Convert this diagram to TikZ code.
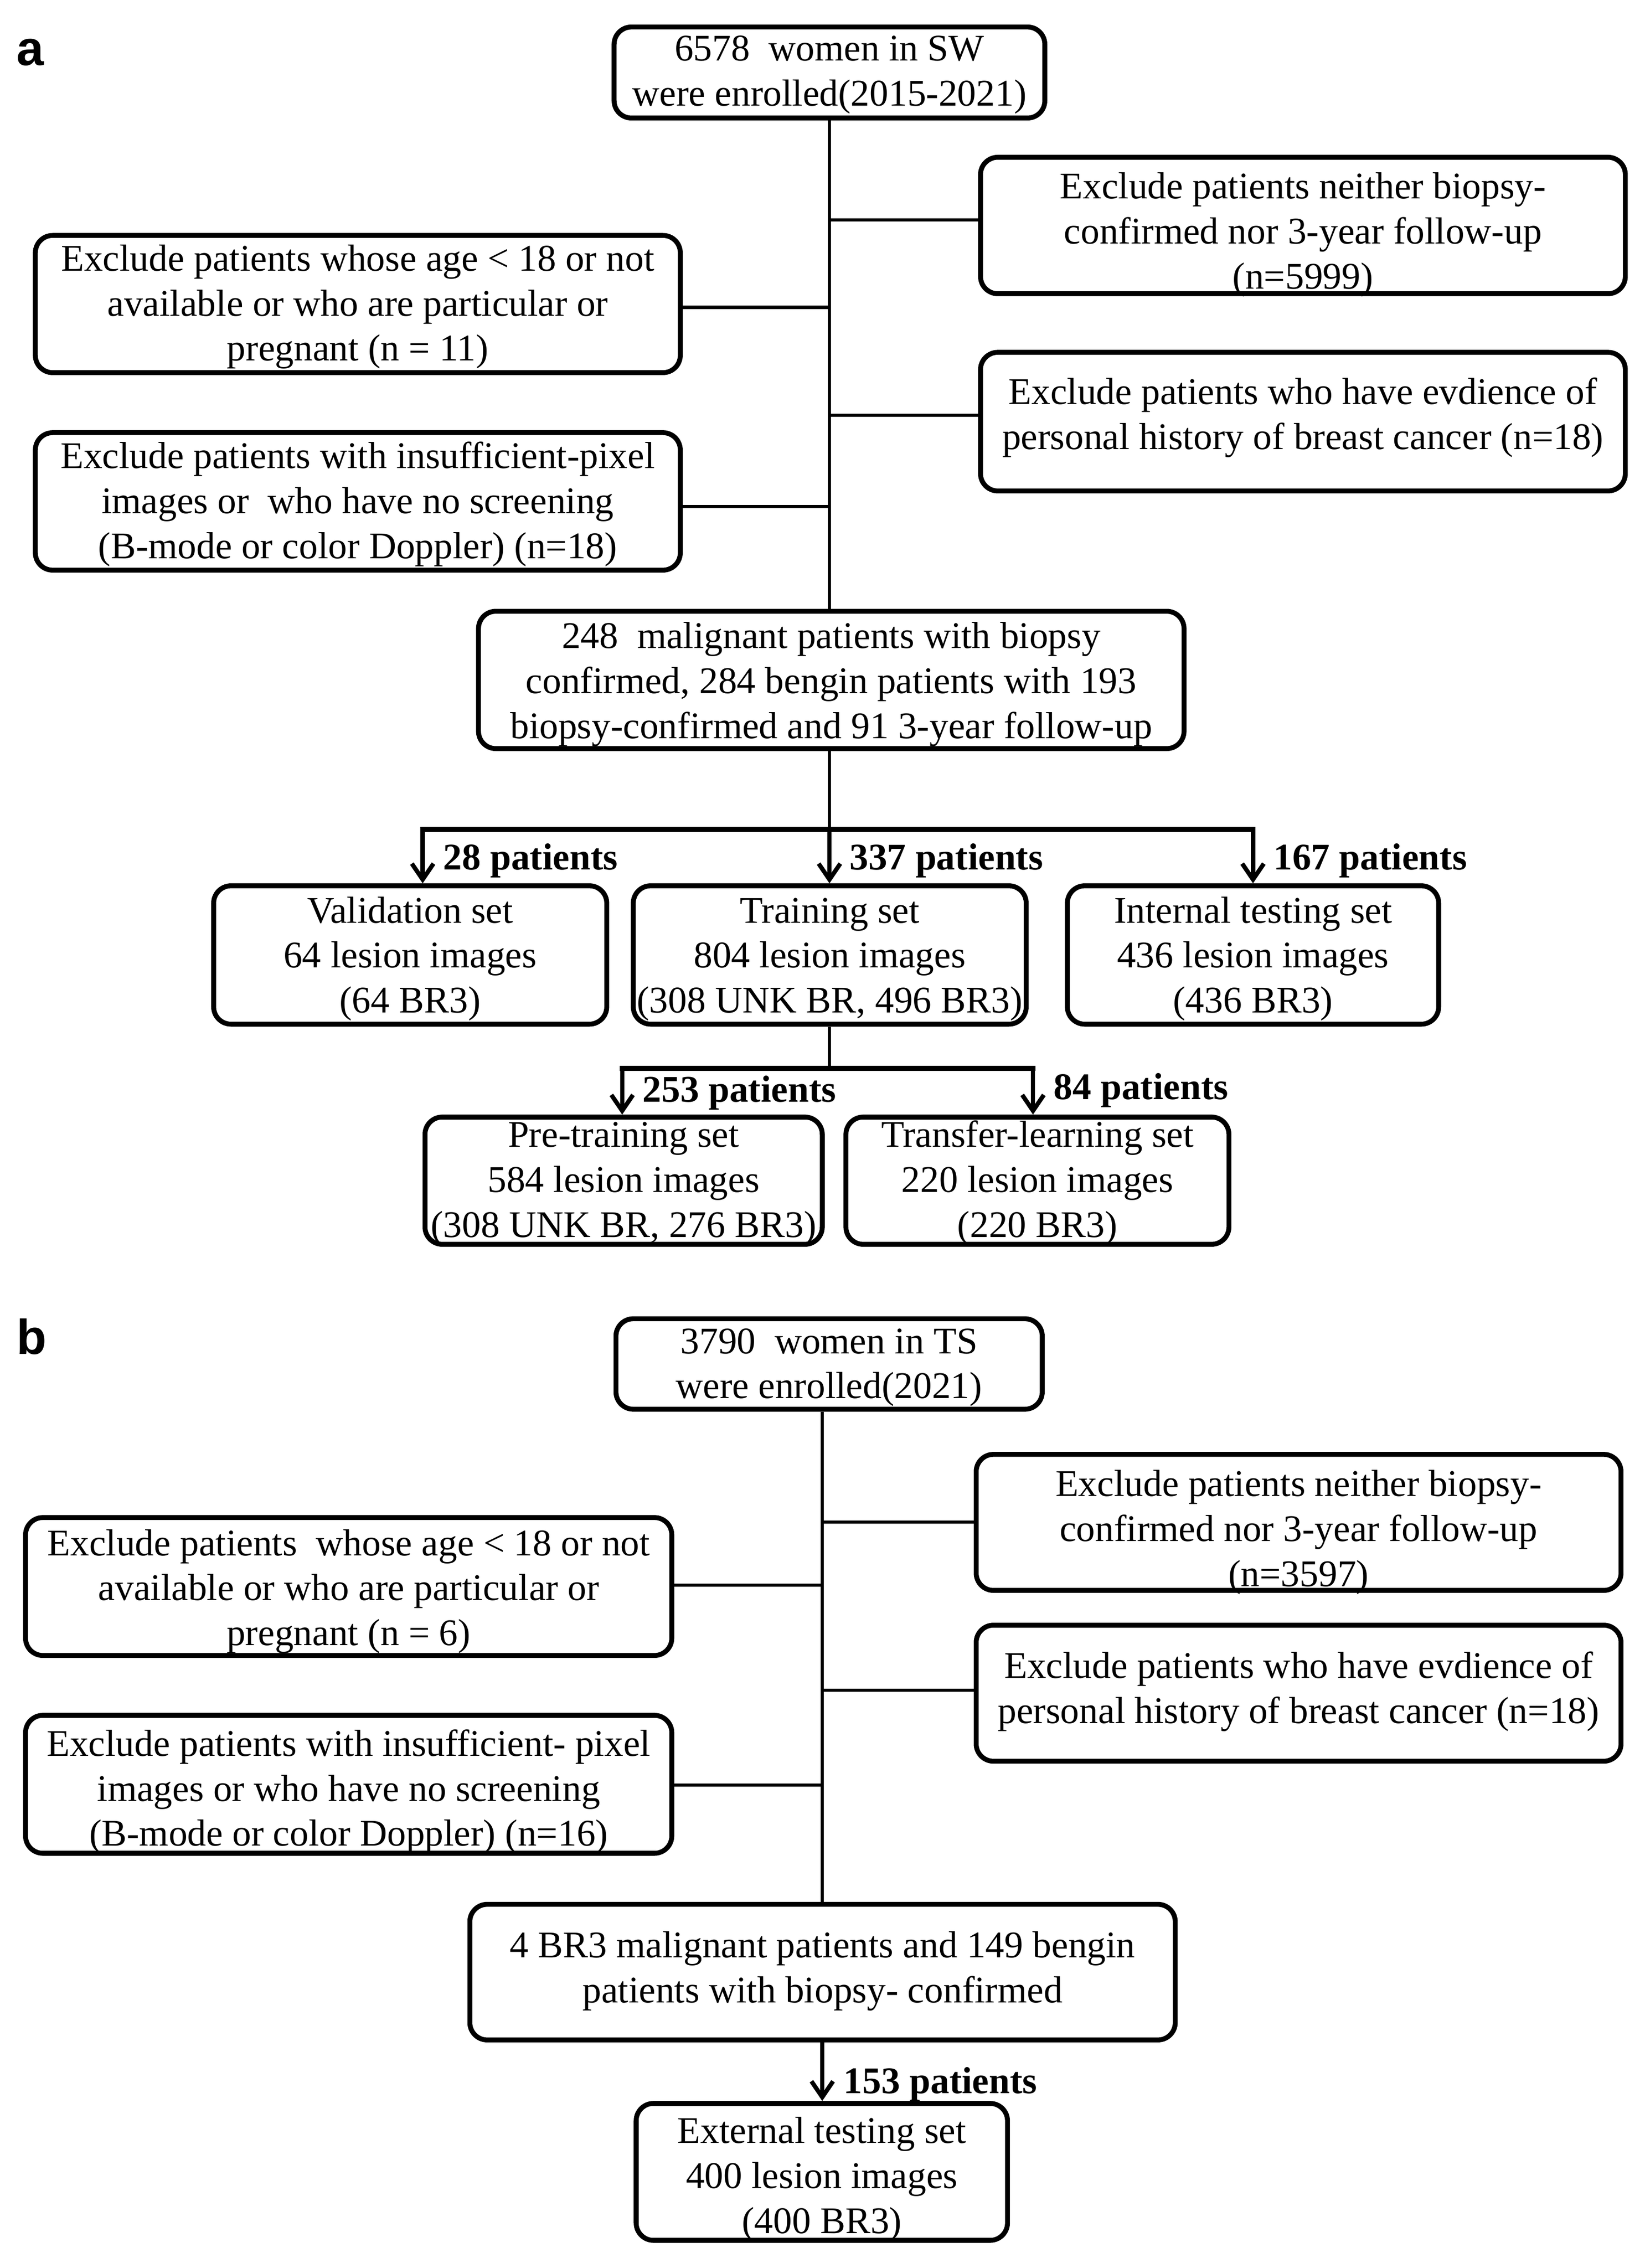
\documentclass[tikz,border=0pt]{standalone}
\usepackage{fontspec}
\setmainfont{Liberation Serif}
\newfontfamily\labelfont{Liberation Sans}
\usetikzlibrary{arrows.meta}
% box from outer edges: name, x-left, x-right, y-top, y-bottom
\newcommand\flowbox[5]{\node[box, minimum width={#3-#2-3.4}, minimum height={#5-#4-3.4}] (#1) at ({(#2+#3)/2},{(#4+#5)/2}) {};}
% text block: name, centre x, first baseline y, text
\newcommand\flowtext[4]{\node[txt, anchor=north] (#1) at (#2,{#3-22}) {\rule{0pt}{22pt}#4};}
\begin{document}
\begin{tikzpicture}[x=1pt,y=-1pt,
  box/.style={draw, line width=3.4pt, rounded corners=12pt, inner sep=0pt},
  txt/.style={align=center, inner sep=0pt, font=\fontsize{26.1}{31.2}\selectfont},
  conn/.style={line width=2.2pt},
  bar/.style={line width=3.4pt, line cap=rect},
  arr/.style={line width=3pt, -{Straight Barb[length=11pt,width=15pt,line width=3pt]}},
  lab/.style={anchor=base west, inner sep=0pt, font=\fontsize{26.1}{31.2}\selectfont\bfseries},
  panel/.style={anchor=base west, inner sep=0pt, font=\fontsize{34}{40}\selectfont\labelfont\bfseries}]
\useasboundingbox (0,0) rectangle (1140,1572.1);

% ---------------- panel a ----------------
\node[panel] (pa) at (11.5,45.3) {a};

\flowbox{a0}{424}{726}{17}{83.5}
\flowtext{a0t}{575}{42}{6578\ \ women in SW\\were enrolled(2015-2021)}
\flowbox{ra1}{678}{1128.4}{107.3}{205.3}
\flowtext{ra1t}{903.2}{137.6}{Exclude patients neither biopsy-\\confirmed nor 3-year follow-up\\(n=5999)}
\flowbox{la1}{22.8}{473.3}{161.5}{260}
\flowtext{la1t}{248}{187.5}{Exclude patients whose age < 18 or not\\available or who are particular or\\pregnant (n = 11)}
\flowbox{ra2}{678}{1128.4}{242.5}{342}
\flowtext{ra2t}{903.2}{280}{Exclude patients who have evdience of\\personal history of breast cancer (n=18)}
\flowbox{la2}{22.8}{473.3}{298.2}{396.9}
\flowtext{la2t}{248}{324.5}{Exclude patients with insufficient-pixel\\images or\ \ who have no screening\\(B-mode or color Doppler) (n=18)}
\flowbox{a1}{330}{822.5}{422}{520.6}
\flowtext{a1t}{576.2}{449.2}{248\ \ malignant patients with biopsy\\confirmed, 284 bengin patients with 193\\biopsy-confirmed and 91 3-year follow-up}

\coordinate (sa0) at (575,83.5);
\coordinate (cr1) at (575,152.5);
\coordinate (cl1) at (575,213);
\coordinate (cr2) at (575,287.9);
\coordinate (cl2) at (575,351);
\draw[conn] (sa0) -- (sa0 |- a1.north);
\draw[conn] (cr1) -- (cr1 -| ra1.west);
\draw[conn] (cl1) -- (cl1 -| la1.east);
\draw[conn] (cr2) -- (cr2 -| ra2.west);
\draw[conn] (cl2) -- (cl2 -| la2.east);

\flowbox{val}{146.4}{422.3}{612.3}{711.6}
\flowtext{valt}{284.3}{639.5}{Validation set\\64 lesion images\\(64 BR3)}
\flowbox{train}{437.3}{713.1}{612.3}{711.6}
\flowtext{traint}{575.2}{639.5}{Training set\\804 lesion images\\(308 UNK BR, 496 BR3)}
\flowbox{intt}{738.2}{999}{612.3}{711.6}
\flowtext{inttt}{868.6}{639.5}{Internal testing set\\436 lesion images\\(436 BR3)}

\coordinate (barA) at (575,575);
\coordinate (barAL) at (293,575);
\coordinate (barAR) at (868.6,575);
\draw[conn] (sa0 |- a1.south) -- (barA);
\draw[bar] (barAL) -- (barAR);
\draw[arr] (barAL) -- (barAL |- val.north);
\draw[arr] (barA) -- (barA |- train.north);
\draw[arr] (barAR) -- (barAR |- intt.north);
\node[lab] (l28) at (307,602.7) {28 patients};
\node[lab] (l337) at (588.8,602.7) {337 patients};
\node[lab] (l167) at (882.6,602.7) {167 patients};

\flowbox{pre}{292.9}{571.7}{772.6}{864.2}
\flowtext{pret}{432.3}{795}{Pre-training set\\584 lesion images\\(308 UNK BR, 276 BR3)}
\flowbox{trans}{584.7}{853.6}{772.6}{864.2}
\flowtext{transt}{719.2}{795}{Transfer-learning set\\220 lesion images\\(220 BR3)}

\coordinate (barB) at (575,740.5);
\coordinate (barBL) at (431.3,740.5);
\coordinate (barBR) at (716.1,740.5);
\draw[conn] (barB |- train.south) -- (barB);
\draw[bar] (barBL) -- (barBR);
\draw[arr] (barBL) -- (barBL |- pre.north);
\draw[arr] (barBR) -- (barBR |- trans.north);
\node[lab] (l253) at (445.3,764) {253 patients};
\node[lab] (l84) at (730.2,762) {84 patients};

% ---------------- panel b ----------------
\node[panel] (pb) at (11.5,938.5) {b};

\flowbox{b0}{425.3}{724.2}{912.4}{978.5}
\flowtext{b0t}{574.7}{938}{3790\ \ women in TS\\were enrolled(2021)}
\flowbox{rb1}{675}{1125.4}{1006.4}{1104.1}
\flowtext{rb1t}{900.2}{1037}{Exclude patients neither biopsy-\\confirmed nor 3-year follow-up\\(n=3597)}
\flowbox{lb1}{16}{467.4}{1050.2}{1149.2}
\flowtext{lb1t}{241.7}{1078}{Exclude patients\ \ whose age < 18 or not\\available or who are particular or\\pregnant (n = 6)}
\flowbox{rb2}{675}{1125.4}{1124.8}{1222.5}
\flowtext{rb2t}{900.2}{1163}{Exclude patients who have evdience of\\personal history of breast cancer (n=18)}
\flowbox{lb2}{16}{467.4}{1187.3}{1286.3}
\flowtext{lb2t}{241.7}{1217}{Exclude patients with insufficient- pixel\\images or who have no screening\\(B-mode or color Doppler) (n=16)}
\flowbox{b1}{324}{816.4}{1318.3}{1415.7}
\flowtext{b1t}{570.2}{1356.7}{4 BR3 malignant patients and 149 bengin\\patients with biopsy- confirmed}
\flowbox{ext}{439.3}{700.1}{1456.3}{1554.6}
\flowtext{extt}{569.7}{1485.5}{External testing set\\400 lesion images\\(400 BR3)}

\coordinate (sb0) at (570,978.5);
\coordinate (dr1) at (570,1055);
\coordinate (dl1) at (570,1098.7);
\coordinate (dr2) at (570,1171.7);
\coordinate (dl2) at (570,1237.4);
\draw[conn] (sb0) -- (sb0 |- b1.north);
\draw[conn] (dr1) -- (dr1 -| rb1.west);
\draw[conn] (dl1) -- (dl1 -| lb1.east);
\draw[conn] (dr2) -- (dr2 -| rb2.west);
\draw[conn] (dl2) -- (dl2 -| lb2.east);
\draw[arr] (sb0 |- b1.south) -- (sb0 |- ext.north);
\node[lab] (l153) at (584.7,1451) {153 patients};
\end{tikzpicture}
\end{document}
